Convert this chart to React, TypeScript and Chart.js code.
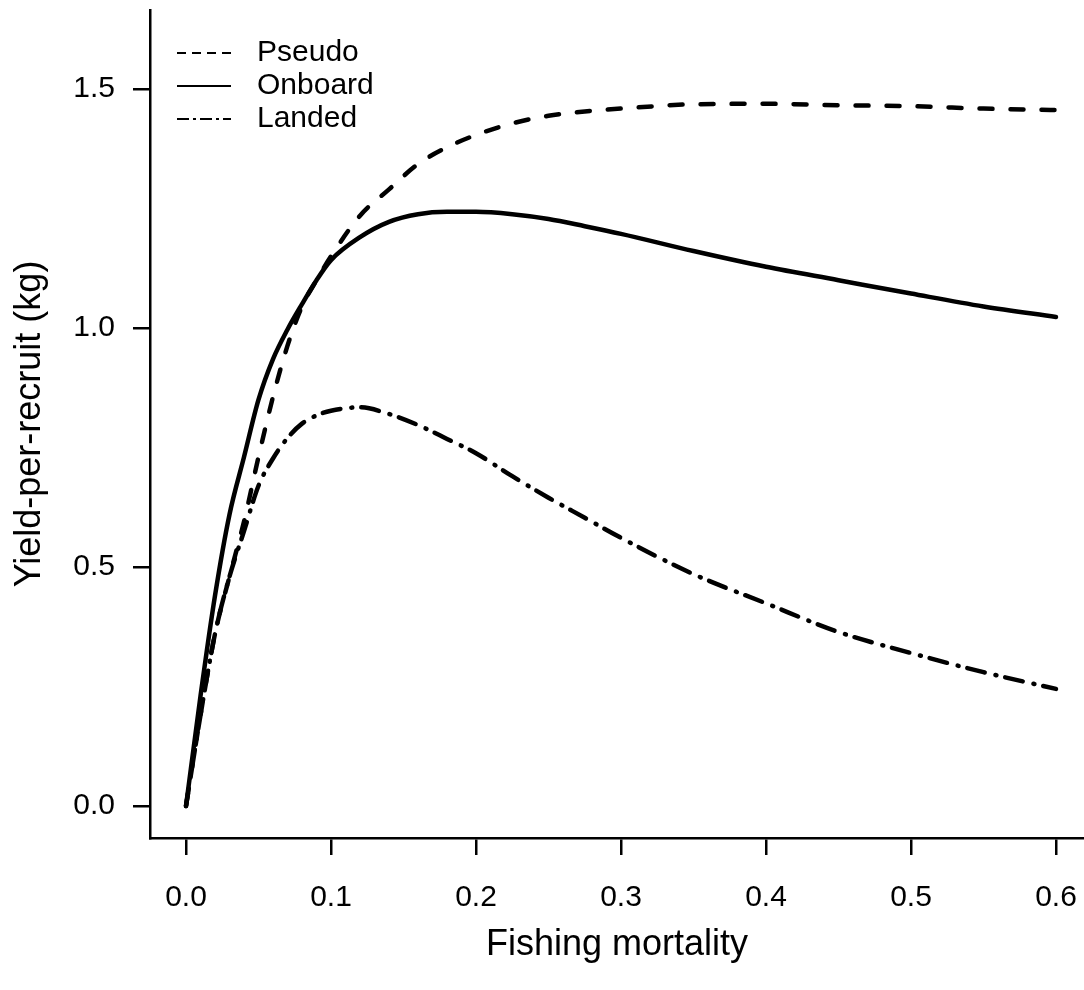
import React, { useEffect, useRef } from 'react';
import { Chart, registerables } from 'chart.js';

Chart.register(...registerables);

const FONT = '"Liberation Sans", Arial, Helvetica, sans-serif';

// Fishing mortality (x values)
const fishingMortality = [0, 0.01, 0.02, 0.03, 0.04, 0.05, 0.06, 0.07, 0.08, 0.09, 0.10, 0.12, 0.14, 0.16, 0.18, 0.20, 0.225, 0.25, 0.275, 0.30, 0.35, 0.40, 0.45, 0.50, 0.55, 0.60];

// Yield-per-recruit (kg)
const pseudoYield = [0, 0.19, 0.36, 0.48, 0.595, 0.73, 0.856, 0.963, 1.045, 1.10, 1.15, 1.235, 1.29, 1.343, 1.378, 1.404, 1.428, 1.444, 1.453, 1.459, 1.468, 1.469, 1.466, 1.464, 1.459, 1.456];
const onboardYield = [0, 0.23, 0.44, 0.61, 0.73, 0.85, 0.935, 0.997, 1.05, 1.10, 1.142, 1.19, 1.222, 1.238, 1.243, 1.243, 1.238, 1.228, 1.213, 1.197, 1.161, 1.128, 1.10, 1.072, 1.045, 1.023];
const landedYield = [0, 0.19, 0.36, 0.48, 0.575, 0.67, 0.727, 0.77, 0.80, 0.817, 0.827, 0.834, 0.82, 0.797, 0.768, 0.738, 0.69, 0.645, 0.603, 0.561, 0.485, 0.424, 0.364, 0.32, 0.28, 0.245];

const seriesLabels = ['Pseudo', 'Onboard', 'Landed'];

const xTickValues = [0, 0.1, 0.2, 0.3, 0.4, 0.5, 0.6];
const yTickValues = [0, 0.5, 1.0, 1.5];

const xLabel = 'Fishing mortality';
const yLabel = 'Yield-per-recruit (kg)';

const insetLegend = {
  id: 'insetLegend',
  afterDraw(chart: any) {
    const { ctx, chartArea } = chart;
    ctx.save();
    const x0 = chartArea.left + 27;
    const x1 = chartArea.left + 81;
    const tx = chartArea.left + 107;
    chart.data.datasets.forEach((ds: any, i: number) => {
      const y = chartArea.top + 43 + i * 33;
      ctx.beginPath();
      ctx.setLineDash(ds.legendDash || []);
      ctx.lineWidth = 2;
      ctx.lineCap = 'butt';
      ctx.strokeStyle = '#000';
      ctx.moveTo(x0, y);
      ctx.lineTo(x1, y);
      ctx.stroke();
      ctx.setLineDash([]);
      ctx.fillStyle = '#000';
      ctx.font = `30px ${FONT}`;
      ctx.textBaseline = 'middle';
      ctx.textAlign = 'left';
      ctx.fillText(ds.label, tx, y);
    });
    ctx.restore();
  },
};

export default function App() {
  const ref = useRef<HTMLCanvasElement | null>(null);

  useEffect(() => {
    if (!ref.current) return;
    const mk = (vals: number[]) => fishingMortality.map((x, i) => ({ x, y: vals[i] }));
    const common = {
      borderColor: '#000',
      borderWidth: 4.5,
      pointRadius: 0,
      fill: false,
      cubicInterpolationMode: 'monotone' as const,
      borderCapStyle: 'round' as const,
      borderJoinStyle: 'round' as const,
    };
    const chart = new Chart(ref.current, {
      type: 'line',
      data: {
        datasets: [
          { ...common, label: seriesLabels[0], data: mk(pseudoYield), borderDash: [13, 18], legendDash: [9, 6] } as any,
          { ...common, label: seriesLabels[1], data: mk(onboardYield), borderDash: [], legendDash: [] } as any,
          { ...common, label: seriesLabels[2], data: mk(landedYield), borderDash: [18, 11, 1, 9], legendDash: [12, 4, 3, 4] } as any,
        ],
      },
      options: {
        responsive: false,
        animation: false,
        layout: { padding: { top: 10, left: 0, right: 0, bottom: 0 } },
        plugins: { legend: { display: false }, tooltip: { enabled: false } },
        scales: {
          x: {
            type: 'linear',
            min: -0.02483,
            max: 0.61931,
            afterBuildTicks: (s: any) => {
              s.ticks = xTickValues.map((v) => ({ value: v }));
            },
            afterFit: (s: any) => {
              s.height = 152;
              s.paddingLeft = 0;
              s.paddingRight = 0;
            },
            ticks: {
              callback: (v: any) => Number(v).toFixed(1),
              font: { family: FONT, size: 30 },
              color: '#000',
              padding: 25,
              maxRotation: 0,
              autoSkip: false,
            },
            grid: { display: true, drawOnChartArea: false, drawTicks: true, tickLength: 17, color: '#000', lineWidth: 2.5 },
            border: { display: true, color: '#000', width: 2.5 },
            title: { display: true, text: xLabel, font: { family: FONT, size: 36 }, color: '#000', padding: { top: 0, bottom: 23 } },
          },
          y: {
            type: 'linear',
            min: -0.06695,
            max: 1.66527,
            afterBuildTicks: (s: any) => {
              s.ticks = yTickValues.map((v) => ({ value: v }));
            },
            afterFit: (s: any) => {
              s.width = 150;
              s.paddingTop = 0;
              s.paddingBottom = 0;
            },
            ticks: {
              callback: (v: any) => Number(v).toFixed(1),
              font: { family: FONT, size: 30 },
              color: '#000',
              padding: 18,
              autoSkip: false,
            },
            grid: { display: true, drawOnChartArea: false, drawTicks: true, tickLength: 17, color: '#000', lineWidth: 2.5 },
            border: { display: true, color: '#000', width: 2.5 },
            title: { display: true, text: yLabel, font: { family: FONT, size: 36 }, color: '#000', padding: { top: 8, bottom: 0 } },
          },
        },
      },
      plugins: [insetLegend],
    });
    return () => chart.destroy();
  }, []);

  return (
    <div style={{ position: 'absolute', left: 0, top: 0, width: 1084, height: 990, background: '#fff' }}>
      <canvas ref={ref} width={1084} height={990} style={{ display: 'block' }} />
    </div>
  );
}
